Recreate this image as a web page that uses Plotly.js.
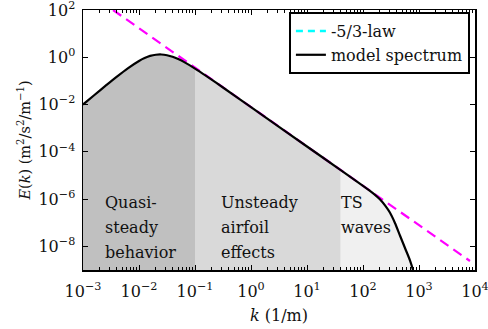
<!DOCTYPE html>
<html>
<head>
<meta charset="utf-8">
<script src="https://cdn.plot.ly/plotly-3.0.1.min.js"></script>
<style>html,body{margin:0;padding:0;background:#fff;}#chart{width:488px;height:329px;}</style>
</head>
<body>
<div id="chart"></div>
<script>
// Model spectrum
const kModel = [0.001, 0.00158, 0.00251, 0.00398, 0.00631, 0.01, 0.0126, 0.0158, 0.02, 0.0251, 0.0316, 0.0398, 0.0501, 0.0631, 0.1, 0.158, 0.316, 1, 10, 40, 100, 126, 158, 200, 251, 302, 372, 457, 562, 692, 776, 832];
const eModel = [0.0100, 0.0248, 0.0612, 0.148, 0.341, 0.698, 0.925, 1.14, 1.28, 1.31, 1.22, 1.05, 0.839, 0.638, 0.333, 0.163, 0.0528, 0.00782, 1.68e-4, 1.68e-5, 3.63e-6, 2.44e-6, 1.61e-6, 9.77e-7, 5.16e-7, 2.69e-7, 9.77e-8, 2.88e-8, 8.5e-9, 2.51e-9, 1.05e-9, 5e-10];
// -5/3 law line end points
const kLaw = [0.00344, 8130];
const eLaw = [100, 2.4e-9];
// Regions (k bounds) and labels
const regionStart = [0.001, 0.1, 40];
const regionEnd = [0.1, 40, 1e6];
const regionLabels = [["Quasi-", "steady", "behavior"], ["Unsteady", "airfoil", "effects"], ["TS", "waves"]];
const regionColors = ["#c0c0c0", "#d9d9d9", "#f0f0f0"];
const labelX = [0.051, 0.347, 0.653];
const labelRowY = [0.2577, 0.1635, 0.0692];
const legendNames = ["-5/3-law", "model spectrum"];
// Tick labels
const xTickVals = [1e-3, 1e-2, 1e-1, 1, 10, 100, 1000, 10000];
const xTickText = ["10<sup>−3</sup>", "10<sup>−2</sup>", "10<sup>−1</sup>", "10<sup>0</sup>", "10<sup>1</sup>", "10<sup>2</sup>", "10<sup>3</sup>", "10<sup>4</sup>"];
const yTickVals = [1e-8, 1e-6, 1e-4, 1e-2, 1, 100];
const yTickText = ["10<sup>−8</sup>", "10<sup>−6</sup>", "10<sup>−4</sup>", "10<sup>−2</sup>", "10<sup>0</sup>", "10<sup>2</sup>"];

const FONT = "DejaVu Serif";
const FS = 16;
const yBottom = 1e-9;

const traces = [];
for (let r = 0; r < regionStart.length; r++) {
  const xs = [], ys = [];
  for (let i = 0; i < kModel.length; i++) {
    if (kModel[i] >= regionStart[r] && kModel[i] <= regionEnd[r]) { xs.push(kModel[i]); ys.push(eModel[i]); }
  }
  const px = [xs[0]].concat(xs, [xs[xs.length - 1]]);
  const py = [yBottom].concat(ys, [yBottom]);
  traces.push({x: px, y: py, type: 'scatter', mode: 'lines', fill: 'toself', fillcolor: regionColors[r],
    line: {width: 0, color: regionColors[r]}, showlegend: false, hoverinfo: 'skip'});
}
traces.push({x: [null], y: [null], type: 'scatter', mode: 'lines', name: legendNames[0],
  line: {color: '#00ffff', width: 2.5, dash: '7px,5px'}, showlegend: true});
traces.push({x: kLaw, y: eLaw, type: 'scatter', mode: 'lines', name: legendNames[0],
  line: {color: '#ff00ff', width: 2.2, dash: '10px,6px'}, showlegend: false});
traces.push({x: kModel, y: eModel, type: 'scatter', mode: 'lines', name: legendNames[1],
  line: {color: '#000000', width: 2.2, shape: 'spline', smoothing: 0.8}, showlegend: true});

const annotations = [];
regionLabels.forEach((lines, i) => {
  lines.forEach((t, j) => {
    annotations.push({text: t, xref: 'paper', yref: 'paper', x: labelX[i], y: labelRowY[j],
      xanchor: 'left', yanchor: 'middle', align: 'left', showarrow: false,
      font: {family: FONT, size: FS, color: '#111'}});
  });
});

const layout = {
  width: 488, height: 329,
  margin: {l: 83, r: 13, t: 10, b: 59},
  paper_bgcolor: '#fff', plot_bgcolor: '#fff',
  font: {family: FONT, size: FS, color: '#111'},
  showlegend: true,
  legend: {x: 0.987, y: 0.992, xanchor: 'right', yanchor: 'top', bgcolor: '#fff',
    bordercolor: '#000', borderwidth: 2, font: {family: FONT, size: FS, color: '#111'},
    tracegroupgap: 0},
  xaxis: {type: 'log', range: [-3, 4], tickmode: 'array', tickvals: xTickVals, ticktext: xTickText,
    ticklabeloverflow: 'allow', ticklabelstandoff: 6,
    showgrid: false, zeroline: false,
    showline: true, linecolor: '#000', linewidth: 1.5, mirror: 'ticks', ticks: 'inside', ticklen: 5, tickcolor: '#000',
    minor: {ticks: 'inside', ticklen: 3, tickcolor: '#000', dtick: 'D1', showgrid: false},
    tickfont: {family: FONT, size: FS, color: '#111'},
    title: {text: '<i>k</i> (1/m)', font: {family: FONT, size: FS, color: '#111'}, standoff: 10}},
  yaxis: {type: 'log', range: [-9, 2], tickmode: 'array', tickvals: yTickVals, ticktext: yTickText,
    ticklabeloverflow: 'allow', ticklabelstandoff: 3,
    showgrid: false, zeroline: false,
    showline: true, linecolor: '#000', linewidth: 1.5, mirror: 'ticks', ticks: 'inside', ticklen: 5, tickcolor: '#000',
    tickfont: {family: FONT, size: FS, color: '#111'},
    title: {text: '<i>E</i>(<i>k</i>) (m<sup>2</sup>/s<sup>2</sup>/m<sup>−1</sup>)', font: {family: FONT, size: 14.5, color: '#111'}, standoff: 4}},
  annotations: annotations
};

Plotly.newPlot('chart', traces, layout, {displayModeBar: false, staticPlot: true});
</script>
</body>
</html>
